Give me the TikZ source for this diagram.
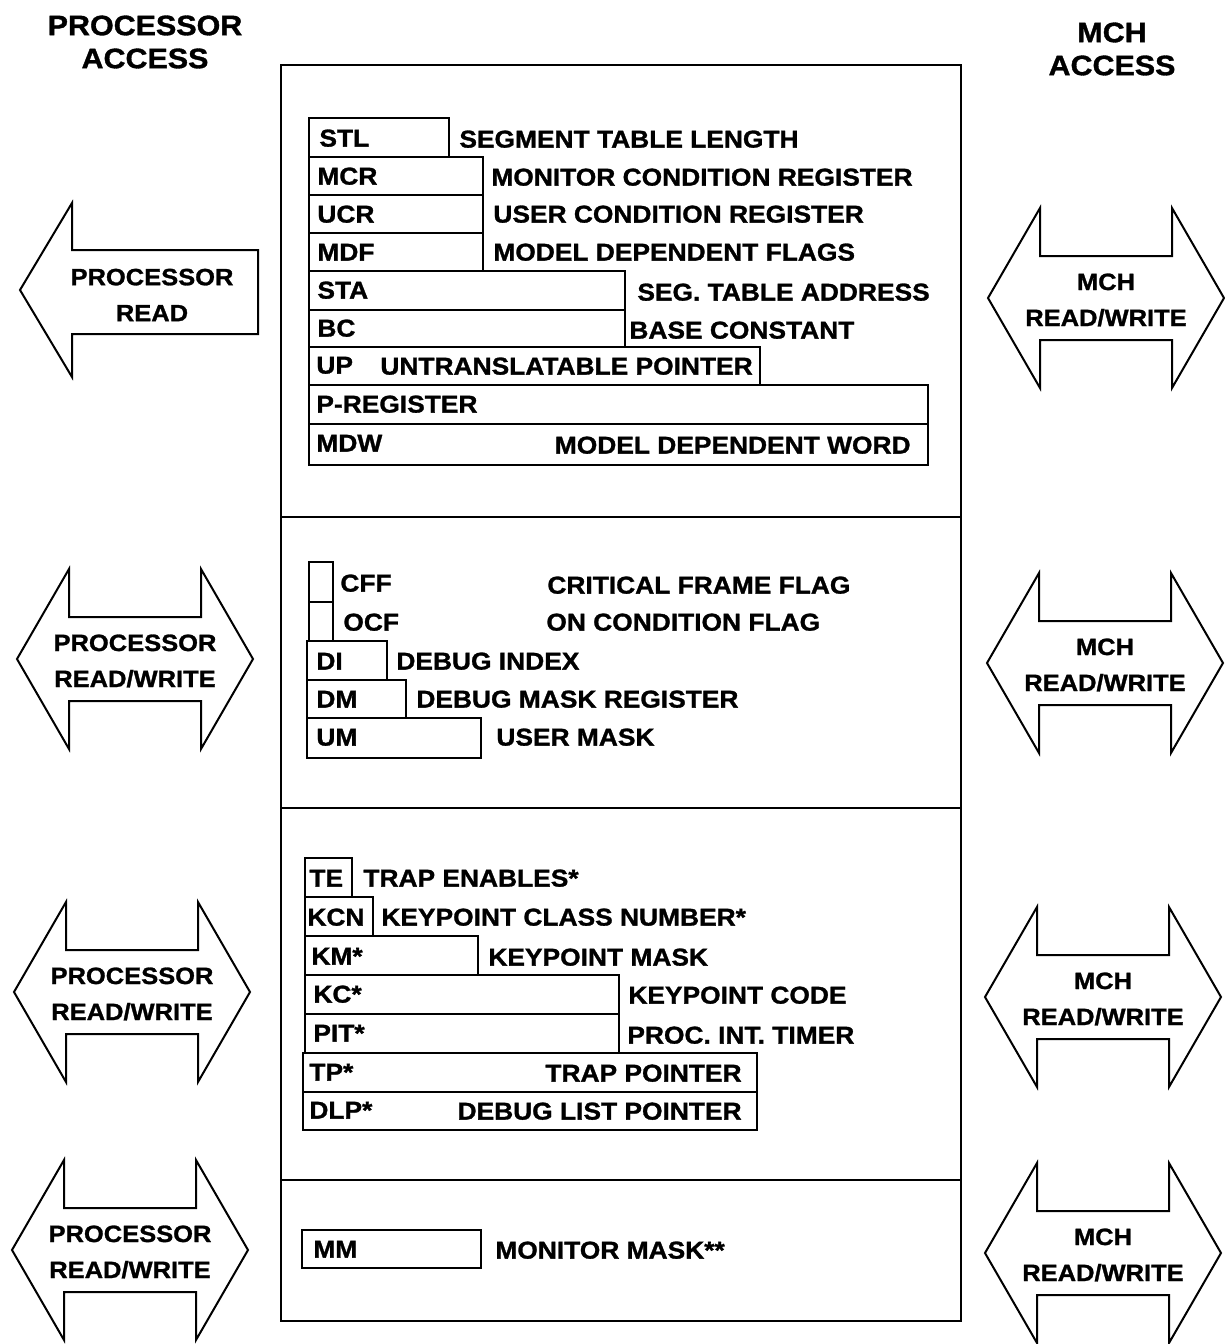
\documentclass[tikz,border=0pt]{standalone}
\usepackage{fontspec}
\setmainfont{Liberation Sans}[FakeStretch=1.08,FakeBold=1.2]
\usetikzlibrary{fit}
\newcommand\bodyfont{\fontsize{12.2}{14}\bfseries\selectfont}
\newcommand\headfont{\fontsize{14.1}{16.5}\bfseries\selectfont}
\newcommand\arrfont{\fontsize{11.8}{18}\bfseries\selectfont}
\tikzset{
  regbox/.style={draw, line width=1.1pt, inner sep=0pt},
  txt/.style={font=\bodyfont, inner sep=0pt, anchor=base west},
  txtr/.style={font=\bodyfont, inner sep=0pt, anchor=base east},
  arrowshape/.style={draw, line width=1pt, line join=miter},
  arrlabel/.style={font=\arrfont, align=center, inner sep=0pt},
  headlabel/.style={font=\headfont, align=center, inner sep=0pt},
  frame/.style={draw, line width=1.3pt, inner sep=0pt},
  divider/.style={line width=1.2pt}
}
% box: name, x1, y1, x2, y2
\newcommand\regb[5]{\node[regbox, fit={(#2,#3)(#4,#5)}] (#1) {};}
% label: name, x, ycenter, text
\newcommand\lbl[4]{\node[txt] (#1) at (#2,#3+8.6) {#4};}
\newcommand\lblr[4]{\node[txtr] (#1) at (#2,#3+8.6) {#4};}
% double arrow: name, cx, cy, line1, line2
\newcommand\dblarrow[5]{%
  \draw[arrowshape] (#2-118,#3) -- (#2-66,#3-90) -- (#2-66,#3-42) -- (#2+66,#3-42)
     -- (#2+66,#3-90) -- (#2+118,#3) -- (#2+66,#3+90) -- (#2+66,#3+42)
     -- (#2-66,#3+42) -- (#2-66,#3+90) -- cycle;
  \node[arrlabel] (#1) at (#2,#3+2) {#4\\#5};}
\begin{document}
\begin{tikzpicture}[x=0.5pt,y=-0.5pt]
\useasboundingbox (0,0) rectangle (1225,1344);

% headers
\node[headlabel] (hproc) at (145,42) {PROCESSOR\\ACCESS};
\node[headlabel] (hmch) at (1112,49) {MCH\\ACCESS};

% outer frame
\node[frame, fit={(281,65)(961,1321)}] (frame) {};
\coordinate (d1l) at (281,517); \coordinate (d1r) at (961,517);
\coordinate (d2l) at (281,808); \coordinate (d2r) at (961,808);
\coordinate (d3l) at (281,1180); \coordinate (d3r) at (961,1180);
\draw[divider] (d1l) -- (d1r);
\draw[divider] (d2l) -- (d2r);
\draw[divider] (d3l) -- (d3r);

% ---------- section 1
\regb{stl}{309}{118}{449}{157}
\regb{mcr}{309}{157}{483}{195}
\regb{ucr}{309}{195}{483}{233}
\regb{mdf}{309}{233}{483}{271}
\regb{sta}{309}{271}{625}{310}
\regb{bc}{309}{310}{625}{347}
\regb{up}{309}{347}{760}{385}
\regb{preg}{309}{385}{928}{424}
\regb{mdw}{309}{424}{928}{465}
\lbl{stlt}{319}{138}{STL}
\lbl{stld}{459}{139}{SEGMENT TABLE LENGTH}
\lbl{mcrt}{317}{176}{MCR}
\lbl{mcrd}{491}{177}{MONITOR CONDITION REGISTER}
\lbl{ucrt}{317}{214}{UCR}
\lbl{ucrd}{493}{214}{USER CONDITION REGISTER}
\lbl{mdft}{317}{252}{MDF}
\lbl{mdfd}{493}{252}{MODEL DEPENDENT FLAGS}
\lbl{stat}{317}{290}{STA}
\lbl{stad}{637}{292}{SEG. TABLE ADDRESS}
\lbl{bct}{317}{328}{BC}
\lbl{bcd}{629}{330}{BASE CONSTANT}
\lbl{upt}{316}{365}{UP}
\lbl{upd}{380}{366}{UNTRANSLATABLE POINTER}
\lbl{pregt}{316}{404}{P-REGISTER}
\lbl{mdwt}{316}{443}{MDW}
\lblr{mdwd}{911}{445}{MODEL DEPENDENT WORD}

% ---------- section 2
\regb{cff}{309}{562}{333}{602}
\regb{ocf}{309}{602}{333}{641}
\regb{di}{307}{641}{387}{680}
\regb{dm}{307}{680}{406}{718}
\regb{um}{307}{718}{481}{758}
\lbl{cfft}{340}{583}{CFF}
\lbl{cffd}{547}{585}{CRITICAL FRAME FLAG}
\lbl{ocft}{343}{622}{OCF}
\lbl{ocfd}{546}{622}{ON CONDITION FLAG}
\lbl{dit}{316}{661}{DI}
\lbl{did}{396}{661}{DEBUG INDEX}
\lbl{dmt}{316}{699}{DM}
\lbl{dmd}{416}{699}{DEBUG MASK REGISTER}
\lbl{umt}{316}{737}{UM}
\lbl{umd}{496}{737}{USER MASK}

% ---------- section 3
\regb{te}{305}{858}{352}{897}
\regb{kcn}{305}{897}{373}{936}
\regb{km}{305}{936}{478}{975}
\regb{kc}{305}{975}{619}{1014}
\regb{pit}{305}{1014}{619}{1053}
\regb{tp}{303}{1053}{757}{1092}
\regb{dlp}{303}{1092}{757}{1130}
\lbl{tet}{309}{878}{TE}
\lbl{ted}{363}{878}{TRAP ENABLES*}
\lbl{kcnt}{307}{917}{KCN}
\lbl{kcnd}{381}{917}{KEYPOINT CLASS NUMBER*}
\lbl{kmt}{311}{956}{KM*}
\lbl{kmd}{488}{957}{KEYPOINT MASK}
\lbl{kct}{313}{994}{KC*}
\lbl{kcd}{628}{995}{KEYPOINT CODE}
\lbl{pitt}{313}{1033}{PIT*}
\lbl{pitd}{627}{1035}{PROC. INT. TIMER}
\lbl{tpt}{309}{1072}{TP*}
\lblr{tpd}{742}{1073}{TRAP POINTER}
\lbl{dlpt}{309}{1110}{DLP*}
\lblr{dlpd}{742}{1111}{DEBUG LIST POINTER}

% ---------- section 4
\regb{mm}{302}{1230}{481}{1268}
\lbl{mmt}{313}{1249}{MM}
\lbl{mmd}{495}{1250}{MONITOR MASK**}

% ---------- left arrows
\draw[arrowshape] (20,290) -- (72,203) -- (72,250) -- (258,250) -- (258,334)
   -- (72,334) -- (72,377) -- cycle;
\node[arrlabel] (pread) at (152,295) {PROCESSOR\\READ};
\dblarrow{prw1}{135}{659}{PROCESSOR}{READ/WRITE}
\dblarrow{prw2}{132}{992}{PROCESSOR}{READ/WRITE}
\dblarrow{prw3}{130}{1250}{PROCESSOR}{READ/WRITE}

% ---------- right arrows
\dblarrow{mrw1}{1106}{298}{MCH}{READ/WRITE}
\dblarrow{mrw2}{1105}{663}{MCH}{READ/WRITE}
\dblarrow{mrw3}{1103}{997}{MCH}{READ/WRITE}
\dblarrow{mrw4}{1103}{1253}{MCH}{READ/WRITE}
\end{tikzpicture}
\end{document}
